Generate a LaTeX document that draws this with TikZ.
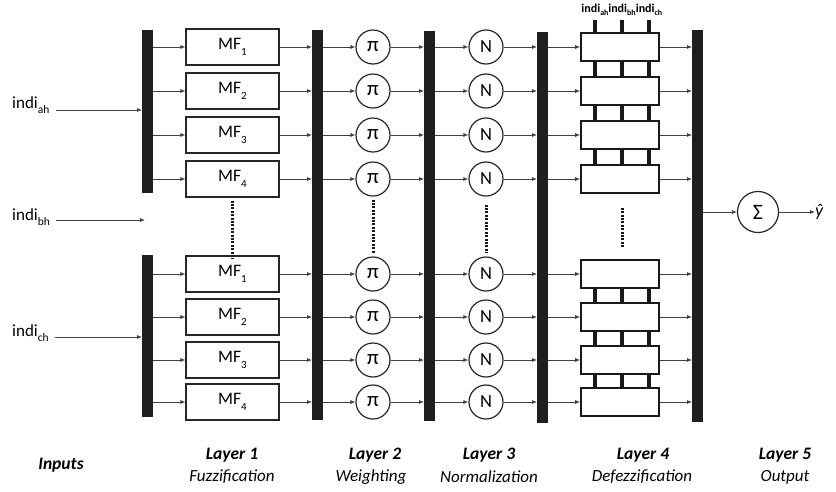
\documentclass[tikz,border=0pt]{standalone}
\usepackage{fontspec}
\setmainfont{Carlito}
\usetikzlibrary{arrows.meta}
\newcommand\lsub[3]{\raisebox{-#1pt}{\fontsize{#2}{#2}\selectfont #3}}
\begin{document}
\begin{tikzpicture}[x=1pt,y=-1pt,
  bar/.style={fill=black!88,draw=none,inner sep=0pt,minimum width=11pt,anchor=north west},
  mfbox/.style={draw=black!85,line width=1.1pt,minimum width=93pt,minimum height=36pt,inner sep=0pt,font=\fontsize{17.5}{19}\selectfont},
  defbox/.style={draw=black!90,line width=1.6pt,minimum width=78pt,minimum height=28pt,inner sep=0pt},
  circ/.style={circle,draw=black!85,line width=1.2pt,minimum size=34pt,inner sep=0pt},
  arr/.style={draw=black!75,line width=0.75pt,-{Latex[length=5pt,width=4pt]}},
  stub/.style={draw=black!90,line width=3.6pt},
  dots/.style={draw=black!90,line width=3pt,dash pattern=on 2pt off 1.4pt},
  lab/.style={font=\fontsize{17}{18}\selectfont},
  laybold/.style={font=\fontsize{17.5}{19}\selectfont\bfseries\itshape},
  layit/.style={font=\fontsize{17}{19}\selectfont\itshape},
  toplab/.style={font=\fontsize{12}{13}\selectfont\bfseries,inner sep=0pt}
]
\useasboundingbox (0,0) rectangle (836,491);

% bars
\node[bar,minimum height=163pt] (b1) at (142,30) {};
\node[bar,minimum height=162pt] (b1b) at (142,255) {};
\node[bar,minimum height=390pt] (b2) at (312,30) {};
\node[bar,minimum height=390pt] (b3) at (424,31) {};
\node[bar,minimum height=391pt] (b4) at (537,32) {};
\node[bar,minimum height=392pt] (b5) at (692,30) {};

% rows
\foreach \yy/\k [count=\i] in {47/1,91/2,135/3,179/4,274/1,317/2,360/3,402/4}{
  \node[mfbox] (m\i) at (232.5,\yy) {MF\lsub{5.5}{11}{\k}};
  \node[circ,font=\fontsize{21}{22}\selectfont] (p\i) at (373,\yy) {π};
  \node[circ,font=\fontsize{18.5}{20}\selectfont] (n\i) at (486,\yy) {N};
  \node[defbox] (d\i) at (620,\yy) {};
  \draw[arr] (m\i) -- (m\i -| b2.west);
  \draw[arr] (b2.east |- p\i) -- (p\i);
  \draw[arr] (p\i) -- (p\i -| b3.west);
  \draw[arr] (b3.east |- n\i) -- (n\i);
  \draw[arr] (n\i) -- (n\i -| b4.west);
  \draw[arr] (b4.east |- d\i) -- (d\i);
  \draw[arr] (d\i) -- (d\i -| b5.west);
}
\foreach \i in {1,2,3,4}{\draw[arr] (b1.east |- m\i) -- (m\i);}
\foreach \i in {5,6,7,8}{\draw[arr] (b1b.east |- m\i) -- (m\i);}

% defuzzification stubs
\foreach \a/\b in {1/2,2/3,3/4,5/6,6/7,7/8}{
  \foreach \s in {-25,2,29}{
    \draw[stub] ([xshift=\s pt]d\a.south) -- ([xshift=\s pt]d\b.north);
  }
}
\node[toplab] (t1) at (595,10) {indi\lsub{3}{8}{ah}};
\node[toplab] (t2) at (622,10) {indi\lsub{3}{8}{bh}};
\node[toplab] (t3) at (649,10) {indi\lsub{3}{8}{ch}};
\foreach \s in {-25,2,29}{
  \draw[stub] ([xshift=\s pt]d1.north) -- ([xshift=\s pt,yshift=12pt]d1.north);
}

% dotted continuation lines
\draw[dots] ([yshift=-3pt]m4.south) -- ([yshift=-3pt]m4.south |- m5.north);
\draw[dots] ([yshift=-3pt]p4.south) -- ([yshift=3pt]p4.south |- p5.north);
\draw[dots] ([yshift=-8pt]n4.south) -- ([yshift=3pt]n4.south |- n5.north);
\draw[dots] ([xshift=2pt,yshift=-14pt]d4.south) -- ([xshift=2pt,yshift=11pt]d4.south |- d5.north);

% inputs
\node[lab,anchor=base west,inner sep=0pt] (ia) at (12,108) {indi\lsub{5.5}{11.5}{ah}};
\node[lab,anchor=base west,inner sep=0pt] (ib) at (12,220) {indi\lsub{5.5}{11.5}{bh}};
\node[lab,anchor=base west,inner sep=0pt] (ic) at (12,336) {indi\lsub{5.5}{11.5}{ch}};
\coordinate (bh) at (145,220);
\draw[arr] ([xshift=6pt,yshift=-2pt]ia.base east) -- ([yshift=-2pt]ia.base east -| b1.west);
\draw[arr] ([xshift=6pt]ib.base east) -- (bh);
\draw[arr] ([xshift=6pt,yshift=-1pt]ic.base east) -- ([yshift=-1pt]ic.base east -| b1b.west);

% output
\node[circ,minimum size=41pt,font=\fontsize{22}{24}\selectfont] (s) at (758,212) {Σ};
\node[font=\fontsize{18}{20}\selectfont,anchor=west,inner sep=0pt] (yh) at (815,212) {\textit{ŷ}};
\draw[arr] (b5.east |- s) -- (s);
\draw[arr] (s) -- (yh);

% layer labels
\node[laybold] (in) at (61,465) {Inputs};
\node[laybold] (l1) at (232,455) {Layer 1};
\node[layit]   (f1) at (232,477) {Fuzzification};
\node[laybold] (l2) at (375,455) {Layer 2};
\node[layit]   (f2) at (371,477) {Weighting};
\node[laybold] (l3) at (489,455) {Layer 3};
\node[layit]   (f3) at (489,477) {Normalization};
\node[laybold] (l4) at (643,455) {Layer 4};
\node[layit]   (f4) at (642,477) {Defezzification};
\node[laybold] (l5) at (785,455) {Layer 5};
\node[layit]   (f5) at (785,477) {Output};
\end{tikzpicture}
\end{document}
